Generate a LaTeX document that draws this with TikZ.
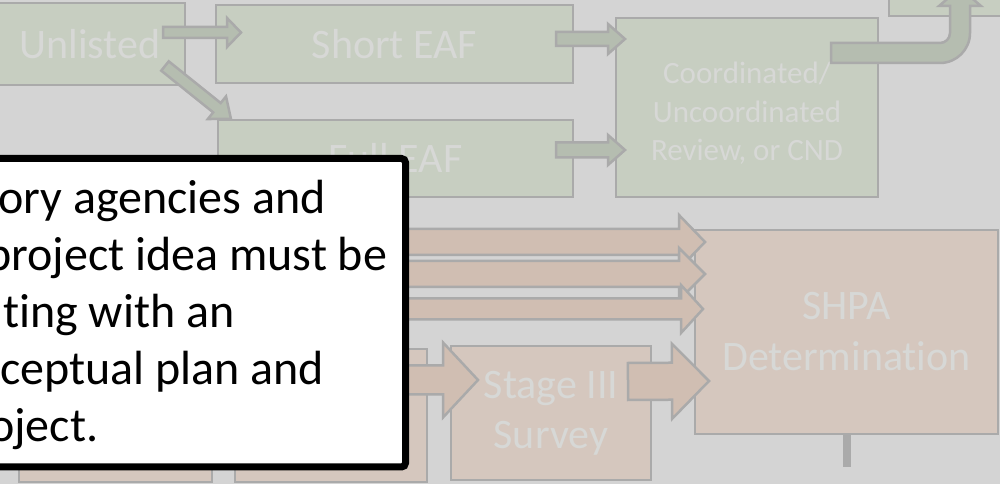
\documentclass[tikz,border=0pt]{standalone}
\usepackage{fontspec}
\setmainfont{Carlito}[Ligatures=NoCommon]
\usetikzlibrary{positioning, calc}

\definecolor{backgray}{RGB}{212,212,212}
\definecolor{edgegray}{RGB}{170,170,170}
\definecolor{labelgray}{RGB}{215,216,214}
\definecolor{greenfill}{RGB}{199,206,193}
\definecolor{greenarrow}{RGB}{181,189,176}
\definecolor{brownfill}{RGB}{213,199,190}
\definecolor{brownarrow}{RGB}{208,190,178}

\tikzset{
    stepbox/.style = {draw=edgegray, line width=2.5pt, inner sep=0pt, outer sep=0pt,
        text=labelgray, align=center, font=\fontsize{42}{51}\selectfont},
    greenbox/.style = {stepbox, fill=greenfill},
    brownbox/.style = {stepbox, fill=brownfill},
    greenarr/.style = {draw=edgegray, line width=2.5pt, fill=greenarrow},
    brownarr/.style = {draw=edgegray, line width=2.5pt, fill=brownarrow},
    notetext/.style = {anchor=base west, inner sep=0pt, font=\fontsize{48}{57}\selectfont},
}

% block arrow: style, from, to, shaft half width, head half width, head length
\newcommand{\blockarrow}[6]{%
    \path[#1] let \p1=(#2), \p2=(#3), \n1={atan2(\y2-\y1,\x2-\x1)}, \n2={veclen(\x2-\x1,\y2-\y1)} in
        [shift={(\p1)}, rotate=\n1]
        (0,#4) -- ({\n2-#6},#4) -- ({\n2-#6},#5) -- (\n2,0)
        -- ({\n2-#6},-#5) -- ({\n2-#6},-#4) -- (0,-#4) -- cycle;%
}

\begin{document}
\begin{tikzpicture}[x=1pt, y=1pt]
    \useasboundingbox (0,0) rectangle (1000,484);
    \fill[backgray] (0,0) rectangle (1000,484);
    \clip (0,0) rectangle (1000,484);

    % green part
    \node [greenbox, minimum width=190pt, minimum height=82pt] (unl) at (90,440) {Unlisted};
    \node [greenbox, minimum width=357pt, minimum height=78pt, right=31pt of unl] (short) {Short EAF};
    \node [greenbox, minimum width=355pt, minimum height=77pt] (full) at (395.5,325.5) {Full EAF};
    \node [greenbox, minimum width=262pt, minimum height=179pt,
        font=\fontsize{31}{38.5}\selectfont] (coord) at (747,376.5)
        {\\[-5pt]Coordinated/\\Uncoordinated\\Review, or CND};
    \node [greenbox, minimum width=211pt, minimum height=76pt] (next) at (994.5,506) {};

    \blockarrow{greenarr}{$(unl.east)+(-22,11.5)$}{$(short.west)+(25,11.5)$}{5.5}{14.5}{14}
    \blockarrow{greenarr}{$(unl.east)+(-20,-22)$}{$(full.north west)+(13,1)$}{6}{14.5}{18}
    \blockarrow{greenarr}{$(short.east)+(-17,5)$}{$(coord.west |- short.east)+(9,5)$}{7}{15}{17}
    \blockarrow{greenarr}{$(full.east)+(-17,8.5)$}{$(coord.west |- full.east)+(9,8.5)$}{7.5}{15}{17}

    \coordinate (bend) at ($(coord.east)+(-47,54.5)$);
    \draw [greenarr] ($(bend)+(0,10)$) -- ++(109,0) arc (-90:0:10) -- ++(0,27)
        -- ++(-11,0) -- ++(21,18) -- ++(21,-18) -- ++(-11,0) -- ++(0,-27)
        arc (0:-90:30) -- ++(-109,0) -- cycle;

    % brown part
    \node [brownbox, minimum width=303pt, minimum height=204pt] (shpa) at (846.5,152) {SHPA\\Determination};
    \node [brownbox, minimum width=200pt, minimum height=134pt,
        font=\fontsize{42}{50}\selectfont] (stage) at (551,71) {Stage III\\Survey};
    \node [brownbox, minimum width=192pt, minimum height=133pt] (survB) at (331,68.5) {};
    \node [brownbox, minimum width=193pt, minimum height=133pt, left=23pt of survB] (survA) {};

    \coordinate (stemend) at ($(shpa.south)+(0,-33)$);
    \draw [edgegray, line width=8pt] (shpa.south) -- (stemend);

    \blockarrow{brownarr}{$(shpa.west)+(-395,90)$}{$(shpa.west)+(10,90)$}{13}{27}{26}
    \blockarrow{brownarr}{$(shpa.west)+(-395,58)$}{$(shpa.west)+(10,58)$}{13}{26}{26}
    \blockarrow{brownarr}{$(shpa.west)+(-395,23)$}{$(shpa.west)+(8,23)$}{10.5}{24}{22}
    \blockarrow{brownarr}{$(survB.east)+(-47,35.5)$}{$(stage.west)+(27,33)$}{14.5}{37.5}{35}
    \blockarrow{brownarr}{$(stage.east)+(-23,31.5)$}{$(shpa.west)+(14,-49)$}{18.5}{37.5}{37}

    % note on top
    \node [draw=black, fill=white, line width=7pt, rounded corners=4pt,
        minimum width=425.5pt, minimum height=308.5pt] (note) at (192.75,171.25) {};
    \node [notetext] (line1) at (-2,270) {ory agencies and};
    \node [notetext] (line2) at (-14,213) {project idea must be};
    \node [notetext] (line3) at (3,156) {ting with an};
    \node [notetext] (line4) at (0,99) {ceptual plan and};
    \node [notetext] (line5) at (-11,42) {oject.};
\end{tikzpicture}
\end{document}
